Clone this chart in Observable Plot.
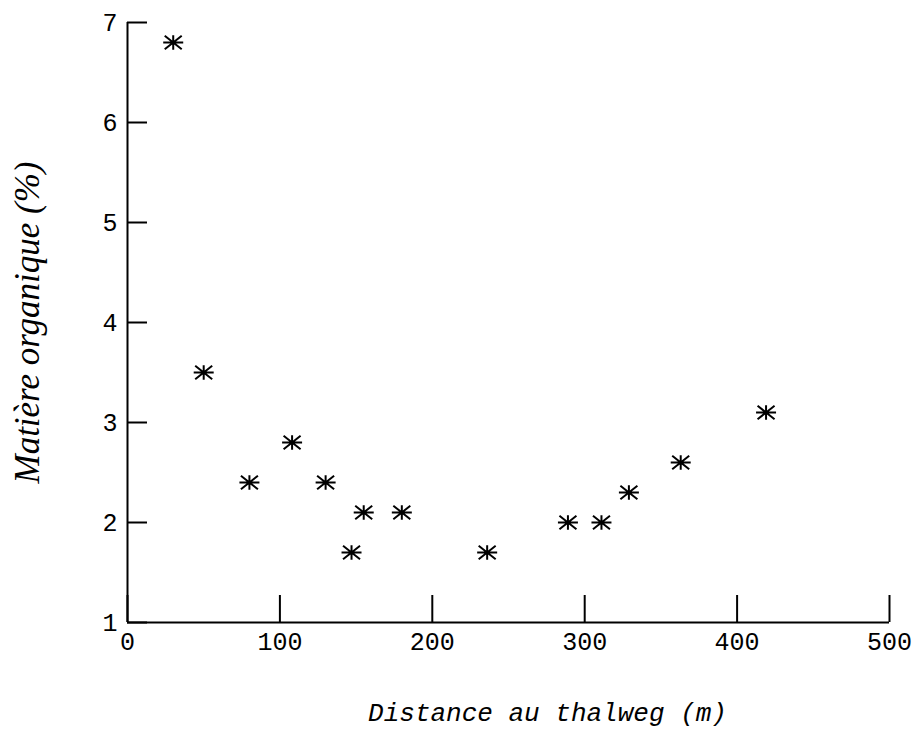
<!DOCTYPE html>
<html>
<head>
<meta charset="utf-8">
<script src="https://cdn.jsdelivr.net/npm/d3@7"></script>
<script src="https://cdn.jsdelivr.net/npm/@observablehq/plot@0.6"></script>
<style>
  html, body { margin: 0; padding: 0; background: #fff; }
</style>
</head>
<body>
<div id="chart"></div>
<script>
const distance = [30, 50, 80, 108, 130, 147, 155, 180, 236, 289, 311, 329, 363, 419];
const matiere  = [6.8, 3.5, 2.4, 2.8, 2.4, 1.7, 2.1, 2.1, 1.7, 2.0, 2.0, 2.3, 2.6, 3.1];
const xTicks = [0, 100, 200, 300, 400, 500];
const yTicks = [1, 2, 3, 4, 5, 6, 7];
const xTitle = "Distance au thalweg (m)";
const yTitle = "Matière organique (%)";

const data = distance.map((d, i) => ({distance: d, matiere: matiere[i]}));

const asterisk = {
  draw(context, size) {
    const r = Math.sqrt(size / Math.PI);
    context.moveTo(-r, 0); context.lineTo(r, 0);
    context.moveTo(0, -0.72 * r); context.lineTo(0, 0.72 * r);
    context.moveTo(-0.85 * r, -0.68 * r); context.lineTo(0.85 * r, 0.68 * r);
    context.moveTo(-0.85 * r, 0.68 * r); context.lineTo(0.85 * r, -0.68 * r);
  }
};

const tickFont = "Liberation Mono, monospace";
const fmt = d => String(d);

const chart = Plot.plot({
  width: 913,
  height: 732,
  marginLeft: 127,
  marginRight: 24,
  marginTop: 22,
  marginBottom: 110,
  style: {background: "#fff", color: "#000"},
  x: {domain: [0, 500]},
  y: {domain: [1, 7]},
  marks: [
    // inward ticks
    Plot.axisX({ticks: xTicks, tickSize: -27, strokeWidth: 2, tickFormat: () => "", label: null}),
    Plot.axisY({ticks: yTicks, tickSize: -20, strokeWidth: 2, tickFormat: () => "", label: null}),
    // tick labels
    Plot.axisX({ticks: xTicks, tickSize: 0, tickPadding: 10, fontSize: 25, fontFamily: tickFont, tickFormat: fmt, label: null}),
    Plot.axisY({ticks: yTicks, tickSize: 0, tickPadding: 10, fontSize: 25, fontFamily: tickFont, tickFormat: fmt, label: null}),
    // axis lines
    Plot.ruleX([0], {strokeWidth: 2}),
    Plot.ruleY([1], {strokeWidth: 2}),
    // axis titles
    Plot.text([xTitle], {frameAnchor: "bottom", dy: 90, dx: 39, lineAnchor: "middle", textAnchor: "middle",
      fontSize: 26, fontStyle: "italic", fontFamily: tickFont}),
    Plot.text([yTitle], {frameAnchor: "left", dx: -100, rotate: -90, lineAnchor: "middle", textAnchor: "middle",
      fontSize: 35, fontStyle: "italic", fontFamily: "Liberation Serif, serif"}),
    // points
    Plot.dot(data, {x: "distance", y: "matiere", symbol: asterisk, r: 10, stroke: "#000", strokeWidth: 2, fill: "none"})
  ]
});
document.getElementById("chart").appendChild(chart);
</script>
</body>
</html>
